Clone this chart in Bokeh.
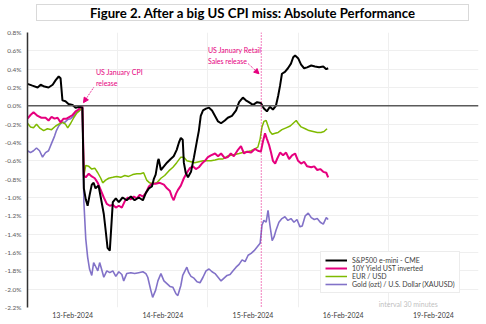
from bokeh.plotting import figure
from bokeh.layouts import column
from bokeh.models import FixedTicker, PrintfTickFormatter, Span, Label, Arrow, NormalHead, ColumnDataSource, Div
from bokeh.embed import file_html
from bokeh.resources import INLINE

title_text = "Figure 2. After a big US CPI miss: Absolute Performance"

# hours on a trading-day axis (24 h per trading day), 0 = 13-Feb-2024 00:00
day_labels = ["13-Feb-2024", "14-Feb-2024", "15-Feb-2024", "16-Feb-2024", "19-Feb-2024"]
day_centers = [12, 36, 60, 84, 108]
day_bounds = [24, 48, 72, 96, 120]
y_ticks = [-2.2, -2.0, -1.8, -1.6, -1.4, -1.2, -1.0, -0.8, -0.6, -0.4, -0.2, 0.0, 0.2, 0.4, 0.6, 0.8]

cpi_release_h = 14.6
retail_release_h = 62.2

spx_h = [0.0, 1.3, 2.7, 3.5, 4.5, 5.6, 6.7, 7.5, 8.3, 8.8,
         9.3, 10.1, 10.9, 12.0, 12.8, 13.9, 14.6,
         15.0, 15.5, 16.0, 16.5, 17.1, 17.6, 18.1, 18.9, 19.5, 20.3,
         20.8, 21.3, 21.9, 22.4, 22.7, 23.5, 24.3, 25.3, 26.4, 27.5,
         28.5, 29.6, 30.7, 31.5, 32.3, 33.1, 33.6, 34.1, 34.7, 34.9,
         35.5, 36.3, 37.1, 38.1, 38.9, 39.7, 40.3, 40.8, 41.3, 41.6,
         42.1, 42.7, 43.5, 44.3, 45.1, 45.6, 46.1, 46.7, 47.5, 48.3,
         49.1, 49.9, 50.7, 51.5, 52.5, 53.3, 54.4, 55.5, 56.3, 57.3,
         58.1, 58.9, 60.0, 61.1, 62.1, 62.9, 63.7, 64.5, 65.3, 66.1,
         66.7, 67.2, 67.7, 68.5, 69.3, 70.1, 70.7, 71.2, 72.0, 72.8,
         73.6, 74.4, 75.5, 76.5, 77.6, 78.7, 79.5, 80.0]
spx_v = [0.24, 0.22, 0.20, 0.23, 0.21, 0.20, 0.23, 0.28, 0.32, 0.30,
         0.06, 0.05, 0.02, 0.01, -0.02, -0.01, -0.02,
         -0.90, -1.02, -1.09, -0.98, -0.86, -0.84, -0.90, -0.87, -1.00, -1.18,
         -1.36, -1.55, -1.58, -1.25, -1.05, -1.01, -1.05, -1.00, -1.03, -0.99,
         -1.03, -1.00, -1.03, -0.95, -0.90, -0.88, -0.80, -0.75, -0.60, -0.58,
         -0.70, -0.66, -0.62, -0.58, -0.55, -0.48, -0.40, -0.35, -0.37, -0.62,
         -0.73, -0.78, -0.72, -0.56, -0.38, -0.27, -0.11, -0.05, -0.03, -0.02,
         -0.05, -0.11, -0.17, -0.19, -0.16, -0.13, -0.11, -0.05, 0.04, 0.09,
         0.06, 0.04, 0.01, 0.04, 0.03, -0.03, -0.06, -0.01, -0.04, 0.00,
         0.11, 0.22, 0.35, 0.37, 0.41, 0.46, 0.53, 0.55, 0.52, 0.45,
         0.41, 0.42, 0.44, 0.43, 0.42, 0.43, 0.40, 0.41]

ust_h = [0.0, 0.8, 1.6, 2.7, 3.7, 4.8, 5.6, 6.4, 7.2, 8.0,
         8.8, 9.6, 10.4, 11.2, 12.0, 12.8, 13.6, 14.0, 14.6,
         15.0, 15.5, 16.3, 17.1, 17.9, 18.7, 19.5, 20.3, 21.1, 21.9,
         22.7, 23.5, 24.3, 25.1, 25.9, 26.7, 27.5, 28.3, 29.1, 29.9,
         30.7, 31.5, 32.3, 33.1, 34.1, 35.2, 36.3, 37.1, 37.9, 38.4,
         38.9, 39.5, 40.0, 40.8, 41.6, 42.4, 43.2, 44.0, 44.8, 45.6,
         46.4, 47.2, 48.0, 48.8, 49.9, 50.7, 51.5, 52.5, 53.3, 54.1,
         54.9, 56.0, 56.8, 57.6, 58.4, 59.5, 60.5, 61.3, 62.1, 62.7,
         63.2, 63.7, 64.3, 64.8, 65.3, 65.9, 66.4, 67.2, 68.0, 68.8,
         69.6, 70.4, 71.2, 72.0, 72.8, 73.6, 74.4, 75.5, 76.3, 77.1,
         77.9, 78.7, 79.5, 80.0]
ust_v = [-0.14, -0.10, -0.07, -0.11, -0.13, -0.13, -0.16, -0.12, -0.14, -0.13,
         -0.18, -0.14, -0.14, -0.12, -0.10, -0.06, -0.04, -0.02, 0.00,
         -0.76, -0.78, -0.74, -0.77, -0.79, -0.84, -0.92, -1.00, -1.07, -1.09,
         -1.08, -1.11, -1.09, -1.11, -1.04, -1.00, -1.02, -0.99, -1.01, -0.97,
         -0.99, -0.95, -0.88, -0.85, -0.85, -0.84, -0.86, -0.90, -0.93, -0.99,
         -1.03, -0.96, -0.92, -0.87, -0.79, -0.73, -0.68, -0.66, -0.69, -0.67,
         -0.63, -0.60, -0.56, -0.54, -0.52, -0.55, -0.52, -0.57, -0.56, -0.52,
         -0.55, -0.48, -0.44, -0.52, -0.50, -0.51, -0.47, -0.49, -0.50, -0.38,
         -0.30, -0.36, -0.43, -0.51, -0.60, -0.63, -0.58, -0.51, -0.54, -0.51,
         -0.58, -0.54, -0.52, -0.60, -0.63, -0.61, -0.66, -0.67, -0.66, -0.70,
         -0.69, -0.72, -0.73, -0.78]

eur_h = [0.0, 0.8, 1.6, 2.4, 3.2, 4.3, 5.3, 6.4, 7.5, 8.3,
         9.3, 10.1, 10.7, 11.5, 12.3, 13.1, 13.9, 14.6,
         15.0, 15.5, 16.3, 17.1, 17.9, 18.7, 19.5, 20.0, 20.8, 21.6,
         22.7, 23.7, 24.8, 25.9, 26.9, 28.0, 29.1, 30.1, 30.9, 31.7,
         32.5, 33.3, 34.4, 35.5, 36.5, 37.6, 38.7, 39.7, 40.8, 41.6,
         42.4, 43.5, 44.5, 45.6, 46.7, 47.7, 48.8, 49.9, 50.9, 52.0,
         53.1, 54.1, 55.2, 56.3, 57.3, 58.4, 59.5, 60.5, 61.3, 61.9,
         62.4, 62.9, 63.5, 64.0, 64.5, 65.1, 65.9, 66.7, 67.7, 68.8,
         69.9, 70.7, 71.5, 72.0, 72.8, 73.9, 74.9, 76.0, 77.1, 78.1,
         78.9, 79.7]
eur_v = [-0.19, -0.23, -0.24, -0.20, -0.24, -0.27, -0.25, -0.26, -0.22, -0.20,
         -0.18, -0.20, -0.24, -0.19, -0.13, -0.08, -0.05, -0.01,
         -0.76, -0.65, -0.66, -0.69, -0.68, -0.73, -0.79, -0.84, -0.81, -0.79,
         -0.78, -0.77, -0.78, -0.76, -0.77, -0.75, -0.74, -0.74, -0.73, -0.81,
         -0.84, -0.85, -0.84, -0.79, -0.76, -0.71, -0.67, -0.62, -0.56, -0.56,
         -0.60, -0.61, -0.62, -0.61, -0.60, -0.60, -0.60, -0.59, -0.58, -0.58,
         -0.55, -0.54, -0.53, -0.52, -0.51, -0.50, -0.49, -0.47, -0.45, -0.36,
         -0.23, -0.17, -0.16, -0.22, -0.28, -0.31, -0.30, -0.29, -0.26, -0.24,
         -0.22, -0.19, -0.16, -0.19, -0.23, -0.25, -0.27, -0.28, -0.29, -0.29,
         -0.28, -0.25]

gold_h = [0.0, 0.8, 1.6, 2.4, 3.2, 4.0, 4.8, 5.6, 6.4, 7.2,
          7.7, 8.3, 9.1, 9.9, 10.7, 11.5, 12.3, 13.1, 13.9, 14.6,
          15.0, 15.5, 16.0, 16.5, 17.1, 17.6, 18.1, 18.7, 19.2, 19.7,
          20.3, 21.1, 21.9, 22.7, 23.5, 24.3, 25.1, 25.6, 26.4, 27.5,
          28.5, 29.6, 30.7, 31.5, 32.0, 32.8, 33.3, 34.1, 34.7, 35.5,
          36.3, 37.1, 37.9, 38.7, 39.5, 40.0, 40.8, 41.3, 41.9, 42.4,
          42.9, 43.5, 44.3, 45.1, 45.9, 46.7, 47.5, 48.3, 49.1, 49.9,
          50.7, 51.5, 52.3, 53.1, 53.9, 54.7, 55.5, 56.3, 57.1, 57.9,
          58.7, 59.5, 60.3, 61.1, 61.9, 62.4, 62.9, 63.5, 64.0, 64.5,
          65.1, 65.6, 66.1, 66.9, 67.7, 68.5, 69.3, 70.1, 70.9, 71.7,
          72.5, 73.1, 73.9, 74.7, 75.5, 76.3, 77.1, 77.9, 78.7, 79.5,
          80.0]
gold_v = [-0.49, -0.51, -0.49, -0.46, -0.49, -0.56, -0.51, -0.49, -0.41, -0.33,
          -0.27, -0.22, -0.18, -0.18, -0.15, -0.14, -0.11, -0.07, -0.05, -0.01,
          -1.05, -1.45, -1.65, -1.78, -1.85, -1.71, -1.75, -1.80, -1.71, -1.78,
          -1.87, -1.80, -1.82, -1.80, -1.86, -1.81, -1.84, -1.91, -1.83, -1.82,
          -1.83, -1.82, -1.81, -1.83, -1.87, -2.01, -2.09, -2.01, -1.91, -1.83,
          -1.91, -1.94, -1.97, -1.98, -2.05, -2.07, -1.96, -1.85, -1.80, -1.76,
          -1.82, -1.86, -1.88, -1.92, -1.93, -1.87, -1.80, -1.78, -1.81, -1.83,
          -1.87, -1.91, -1.88, -1.85, -1.84, -1.80, -1.76, -1.73, -1.68, -1.70,
          -1.63, -1.61, -1.58, -1.54, -1.50, -1.30, -1.25, -1.27, -1.14, -1.30,
          -1.47, -1.43, -1.36, -1.27, -1.23, -1.21, -1.25, -1.23, -1.27, -1.24,
          -1.32, -1.31, -1.20, -1.17, -1.22, -1.24, -1.23, -1.27, -1.29, -1.22,
          -1.24]

series = [
    ("S&P500 e-mini - CME", spx_h, spx_v, "#000000", 2.0),
    ("10Y Yield UST inverted", ust_h, ust_v, "#e6007e", 2.0),
    ("EUR / USD", eur_h, eur_v, "#7fba00", 1.5),
    ("Gold (ozt) / U.S. Dollar (XAUUSD)", gold_h, gold_v, "#8272c8", 1.6),
]
for name, hh, vv, _, _ in series:
    if len(hh) != len(vv):
        raise ValueError(f"{name}: {len(hh)} vs {len(vv)}")

FONT = "Lato"
PINK = "#e6007e"

header = Div(
    text=(
        '<div style="margin:4px 0 0 36px; width:433px; height:17px; '
        'border:1px solid #d9d9d9; text-align:center; color:#000; '
        "font-family:Lato; font-weight:bold; font-size:13.2px; line-height:17px; "
        'white-space:nowrap; overflow:hidden;">' + title_text + "</div>"
    ),
    width=486, height=28, margin=0,
)

p = figure(width=486, height=296, output_backend="svg", toolbar_location=None,
           x_range=(0, 120), y_range=(-2.2, 0.8),
           min_border_left=27, min_border_right=8, min_border_bottom=17, min_border_top=4)
p.margin = 0
p.outline_line_color = None
p.background_fill_color = "white"
p.border_fill_color = "white"

# axes
for ax in (p.xaxis[0], p.yaxis[0]):
    ax.major_tick_out = 0
    ax.major_tick_in = 0
    ax.minor_tick_out = 0
    ax.minor_tick_in = 0
    ax.axis_label_standoff = 0
    ax.major_tick_line_color = None
    ax.minor_tick_line_color = None
    ax.major_label_text_font = FONT

p.yaxis.ticker = FixedTicker(ticks=y_ticks)
p.yaxis.formatter = PrintfTickFormatter(format="%.1f%%")
p.yaxis.axis_line_color = "#333333"
p.yaxis.axis_line_width = 1.5
p.yaxis.major_label_text_font_size = "6.5px"
p.yaxis.major_label_text_color = "#595959"
p.yaxis.major_label_standoff = 6

p.xaxis.ticker = FixedTicker(ticks=day_centers)
p.xaxis.major_label_overrides = {c: l for c, l in zip(day_centers, day_labels)}
p.xaxis.axis_line_color = None
p.xaxis.major_label_text_font_size = "7px"
p.xaxis.major_label_text_color = "#404040"
p.xaxis.major_label_standoff = 3

p.ygrid.ticker = FixedTicker(ticks=y_ticks)
p.ygrid.grid_line_color = "#efefef"
p.xgrid.ticker = FixedTicker(ticks=day_bounds)
p.xgrid.grid_line_color = "#efefef"

p.add_layout(Span(location=0, dimension="width", line_color="#5a5a5a", line_width=1.5))
p.add_layout(Span(location=retail_release_h, dimension="height", line_color=PINK,
                  line_width=1, line_dash="1 2"))

renderers = {}
for name, hh, vv, col, w in series:
    src = ColumnDataSource(dict(h=hh, v=vv))
    renderers[name] = (src, col, w)

order_draw = ["Gold (ozt) / U.S. Dollar (XAUUSD)", "EUR / USD", "10Y Yield UST inverted", "S&P500 e-mini - CME"]
for name in order_draw:
    src, col, w = renderers[name]
    p.line("h", "v", source=src, line_color=col, line_width=w, legend_label=name)

# reorder legend
items = {it.label.value: it for it in p.legend.items}
p.legend.items = [items[s[0]] for s in series]
p.legend.location = (293, 14)
p.legend.label_text_font = FONT
p.legend.label_text_font_size = "7px"
p.legend.label_text_color = "#404040"
p.legend.label_height = 6
p.legend.glyph_height = 6
p.legend.glyph_width = 22
p.legend.spacing = -2
p.legend.padding = 4
p.legend.margin = 0
p.legend.label_standoff = 5
p.legend.border_line_color = "#d9d9d9"
p.legend.background_fill_alpha = 1.0

# annotations
p.add_layout(Label(x=cpi_release_h + 3.6, y=0.41, text="US January CPI\nrelease",
                   text_font=FONT, text_font_size="7px", text_color=PINK,
                   text_baseline="top", text_align="left", text_line_height=1.3))
p.add_layout(Arrow(end=NormalHead(size=5, fill_color=PINK, line_color=PINK),
                   x_start=cpi_release_h + 3.0, y_start=0.20,
                   x_end=cpi_release_h + 0.3, y_end=0.035,
                   line_color=PINK, line_width=1, line_dash="1 1"))
p.add_layout(Label(x=48.0, y=0.65, text="US January Retail\nSales release",
                   text_font=FONT, text_font_size="7px", text_color=PINK,
                   text_baseline="top", text_align="left", text_line_height=1.3))
p.add_layout(Arrow(end=NormalHead(size=5, fill_color=PINK, line_color=PINK),
                   x_start=58.7, y_start=0.46, x_end=retail_release_h - 0.6, y_end=0.35,
                   line_color=PINK, line_width=1, line_dash="1 1"))
p.add_layout(Label(x=101.3, y=-2.157, text="interval 30 minutes",
                   text_font=FONT, text_font_size="7px", text_color="#bfbfbf",
                   text_baseline="middle", text_align="center"))

layout = column(header, p, spacing=0, margin=0)
open("out.html", "w").write(file_html(layout, INLINE))
